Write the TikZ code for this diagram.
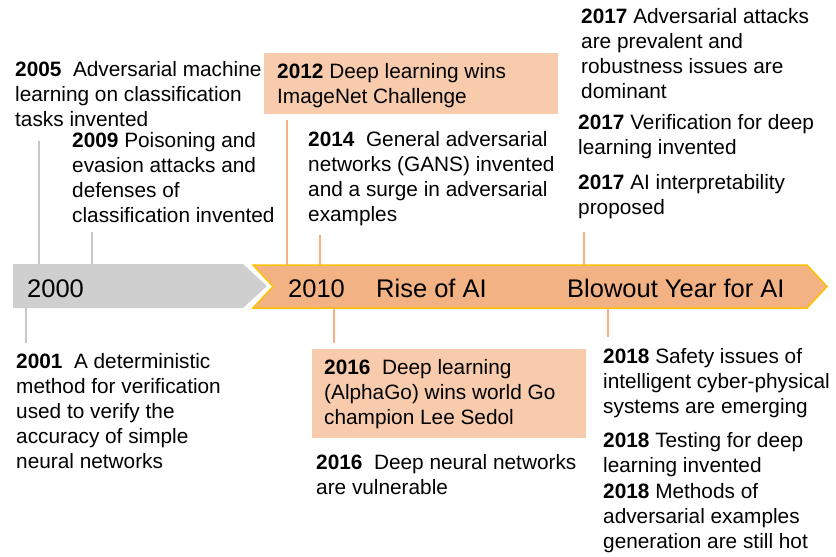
\documentclass[tikz,border=0pt]{standalone}
\usepackage{fontspec}
\setmainfont{Liberation Sans}
\usepackage{tikz}
\usetikzlibrary{positioning}
\definecolor{bandgrey}{RGB}{208,207,208}
\definecolor{bandorange}{RGB}{243,178,132}
\definecolor{bandedge}{RGB}{255,192,0}
\definecolor{boxorange}{RGB}{248,203,173}
\definecolor{tickgrey}{RGB}{200,200,200}
\definecolor{tickorange}{RGB}{244,177,131}

\begin{document}
\begin{tikzpicture}[x=1pt,y=-1pt,
	ev/.style={anchor=north west,align=left,inner sep=0pt,font=\fontsize{20.8}{25}\selectfont},
	era/.style={anchor=base west,inner sep=0pt,font=\fontsize{25.5}{30}\selectfont},
	gtick/.style={draw=tickgrey,line width=1.3pt},
	otick/.style={draw=tickorange,line width=1.3pt}]
	\useasboundingbox (0,0) rectangle (836,557);
	% bands
	\fill[bandgrey] (13,264) -- (243,264) -- (267,286) -- (243,308) -- (13,308) -- cycle;
	\filldraw[fill=bandorange,draw=bandedge,line width=1.5pt] (253,265) -- (807,265) -- (827,286.5) -- (807,308) -- (253,308) -- (273,286.5) -- cycle;
	\coordinate (gtop) at (0,264); \coordinate (gbot) at (0,308);
	\coordinate (otop) at (0,265); \coordinate (obot) at (0,308);
	\node[era] (y00) at (27,297) {2000};
	\node[era] (y10) at (288,297) {2010};
	\node[era] (rise) at (376,297) {Rise of AI};
	\node[era] (blow) at (567,297) {Blowout Year for AI};
	% highlighted boxes
	\fill[boxorange] (264,53) rectangle (558,114);
	\fill[boxorange] (312,349) rectangle (586,438);
	% events above
	\node[ev] (e05) at (15,61) {\textbf{2005}\ \ Adversarial machine\\learning on classification\\tasks invented};
	\node[ev] (e09) at (72,132) {\textbf{2009} Poisoning and\\evasion attacks and\\defenses of\\classification invented};
	\node[ev] (e12) at (277,63) {\textbf{2012} Deep learning wins\\ImageNet Challenge};
	\node[ev] (e14) at (308,131) {\textbf{2014}\ \ General adversarial\\networks (GANS) invented\\and a surge in adversarial\\examples};
	\node[ev] (e17a) at (581,8) {\textbf{2017} Adversarial attacks\\are prevalent and\\robustness issues are\\dominant};
	\node[ev] (e17b) at (578,114) {\textbf{2017} Verification for deep\\learning invented};
	\node[ev] (e17c) at (578,174) {\textbf{2017} AI interpretability\\proposed};
	% events below
	\node[ev] (e01) at (16,353) {\textbf{2001}\ \ A deterministic\\method for verification\\used to verify the\\accuracy of simple\\neural networks};
	\node[ev] (e16a) at (324,359) {\textbf{2016}\ \ Deep learning\\(AlphaGo) wins world Go\\champion Lee Sedol};
	\node[ev] (e16b) at (316,454) {\textbf{2016}\ \ Deep neural networks\\are vulnerable};
	\node[ev] (e18a) at (603,348) {\textbf{2018} Safety issues of\\intelligent cyber-physical\\systems are emerging};
	\node[ev] (e18b) at (603,432) {\textbf{2018} Testing for deep\\learning invented};
	\node[ev] (e18c) at (603,483) {\textbf{2018} Methods of\\adversarial examples\\generation are still hot};
	% ticks
	\coordinate (t05) at (39,141); \coordinate (t09) at (92,232);
	\coordinate (t12) at (287,120); \coordinate (t14) at (320,235);
	\coordinate (t17) at (584,232);
	\coordinate (t01) at (26,343); \coordinate (t16) at (334,343);
	\coordinate (t18) at (608,337);
	\draw[gtick] (t05) -- (t05 |- gtop);
	\draw[gtick] (t09) -- (t09 |- gtop);
	\draw[otick] (t12) -- (t12 |- otop);
	\draw[otick] (t14) -- (t14 |- otop);
	\draw[otick] (t17) -- (t17 |- otop);
	\draw[gtick] (t01) -- (t01 |- gbot);
	\draw[otick] (t16) -- (t16 |- obot);
	\draw[otick] (t18) -- (t18 |- obot);
\end{tikzpicture}
\end{document}
